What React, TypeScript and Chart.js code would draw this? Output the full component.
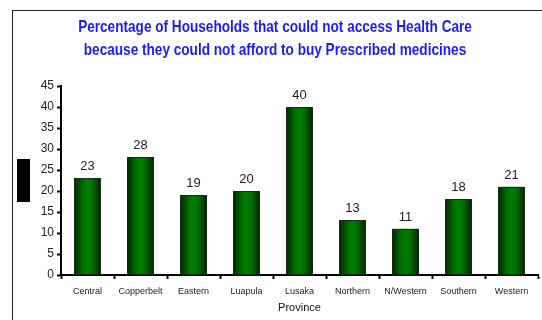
import React, { useEffect, useRef } from "react";
import { Chart, registerables } from "chart.js";

Chart.register(...registerables);

const provinces = ["Central", "Copperbelt", "Eastern", "Luapula", "Lusaka", "Northern", "N/Western", "Southern", "Western"];
const percentages = [23, 28, 19, 20, 40, 13, 11, 18, 21];
const titleLines = ["Percentage of Households that could not access Health Care", "because they could not afford to buy Prescribed medicines"];
const axisTitle = "Province";

const barPlugin = {
  id: "gradBars",
  afterDatasetsDraw(chart: any) {
    const ctx = chart.ctx;
    const meta = chart.getDatasetMeta(0);
    ctx.save();
    meta.data.forEach((el: any, i: number) => {
      const { x, y, base, width } = el.getProps(["x", "y", "base", "width"], true);
      const left = x - width / 2;
      const g = ctx.createLinearGradient(left, 0, left + width, 0);
      g.addColorStop(0, "#002400");
      g.addColorStop(0.3, "#006a00");
      g.addColorStop(0.5, "#008000");
      g.addColorStop(0.7, "#006a00");
      g.addColorStop(1, "#002400");
      ctx.fillStyle = g;
      ctx.fillRect(left, y, width, base - y);
      ctx.strokeStyle = "#1c2a1c";
      ctx.lineWidth = 1;
      ctx.strokeRect(Math.round(left) + 0.5, Math.round(y) + 0.5, Math.round(width) - 1, base - y);
      ctx.fillStyle = "#222";
      ctx.font = "13px 'Liberation Sans', Arial, sans-serif";
      ctx.textAlign = "center";
      ctx.textBaseline = "alphabetic";
      ctx.fillText(String(percentages[i]), x, y - 8);
    });
    ctx.restore();
  },
};

const titlePlugin = {
  id: "narrowTitle",
  afterDraw(chart: any) {
    const ctx = chart.ctx;
    ctx.save();
    ctx.fillStyle = "#1a1aff";
    ctx.font = "bold 17px 'Liberation Sans', Arial, sans-serif";
    ctx.textAlign = "center";
    ctx.textBaseline = "middle";
    titleLines.forEach((line, i) => {
      ctx.save();
      ctx.translate(275, 27 + i * 23);
      ctx.scale(0.8, 1);
      ctx.fillText(line, 0, 0);
      ctx.restore();
    });
    ctx.restore();
  },
};

export default function App() {
  const ref = useRef<HTMLCanvasElement>(null);
  useEffect(() => {
    const chart = new Chart(ref.current!, {
      type: "bar",
      data: {
        labels: provinces,
        datasets: [{ data: percentages, backgroundColor: "rgba(0,0,0,0)", borderWidth: 0, barPercentage: 0.5, categoryPercentage: 1 }],
      },
      options: {
        animation: false,
        responsive: false,
        layout: { padding: { left: 0, right: 4, top: 86, bottom: 0 } },
        plugins: {
          legend: { display: false },
          tooltip: { enabled: false },
          title: { display: false },
        },
        scales: {
          x: {
            offset: true,
            grid: { display: true, offset: true, drawOnChartArea: false, tickLength: 4, color: "#000", tickWidth: 2 },
            border: { display: true, color: "#000", width: 2 },
            ticks: { color: "#222", font: { family: "'Liberation Sans', Arial, sans-serif", size: 9 }, padding: 7, maxRotation: 0, autoSkip: false },
            title: { display: true, text: axisTitle, color: "#111", font: { family: "'Liberation Sans', Arial, sans-serif", size: 11 }, padding: { top: 2, bottom: 5 } },
            afterFit(s: any) { s.height = 45; },
          },
          y: {
            min: 0,
            max: 45,
            ticks: { stepSize: 5, color: "#222", font: { family: "'Liberation Sans', Arial, sans-serif", size: 12 }, padding: 3 },
            grid: { display: true, drawOnChartArea: false, tickLength: 4, color: "#000", tickWidth: 2 },
            border: { display: true, color: "#000", width: 2 },
            afterFit(s: any) { s.width = 61; },
          },
        },
      },
      plugins: [barPlugin, titlePlugin],
    });
    return () => chart.destroy();
  }, []);
  return (
    <div style={{ position: "absolute", left: 0, top: 0, width: 542, height: 320, background: "#fff" }}>
      <div style={{ position: "absolute", left: 12, top: 10, width: 530, height: 310, borderLeft: "1px solid #222", borderTop: "1px solid #222" }} />
      <div style={{ position: "absolute", left: 17, top: 159, width: 13, height: 43, background: "#000" }} />
      <canvas ref={ref} width={542} height={320} style={{ position: "absolute", left: 0, top: 0 }} />
    </div>
  );
}
